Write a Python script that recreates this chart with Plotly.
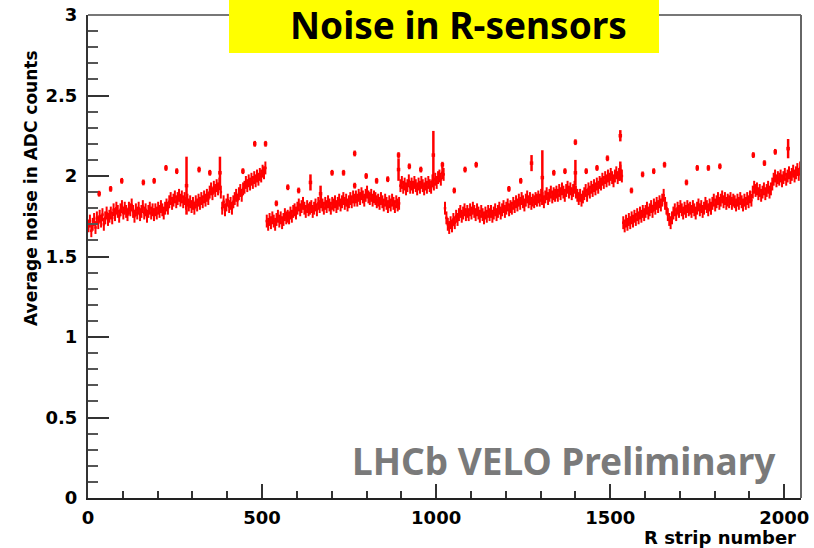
import numpy as np
import plotly.graph_objects as go

# ---- data: average noise per group of 4 R strips ----
BIN_WIDTH = 4
seg1_noise = [
    1.69, 1.72, 1.66, 1.70, 1.73, 1.68, 1.74, 1.71, 1.75, 1.72, 1.76, 1.70, 1.74, 1.77, 1.73, 1.75,
    1.77, 1.74, 1.79, 1.76, 1.80, 1.78, 1.75, 1.79, 1.81, 1.77, 1.80, 1.78, 1.76, 1.80, 1.79, 1.82,
    1.78, 1.75, 1.79, 1.77, 1.80, 1.76, 1.78, 1.81, 1.77, 1.79, 1.75, 1.78, 1.80, 1.77, 1.79, 1.76,
    1.79, 1.77, 1.80, 1.78, 1.81, 1.79, 1.77, 1.80, 1.82, 1.80, 1.84, 1.86, 1.83, 1.85, 1.87, 1.84,
    1.86, 1.88, 1.85, 1.87, 1.84, 1.86, 1.83, 1.85, 1.82, 1.84, 1.81, 1.83, 1.80, 1.84, 1.82, 1.85,
    1.83, 1.86, 1.84, 1.87, 1.85, 1.88, 1.86, 1.90, 1.92, 1.89, 1.93, 1.91, 1.94, 1.92, 1.95, 1.90,
    1.80, 1.84, 1.79, 1.82, 1.85, 1.81, 1.83, 1.80, 1.84, 1.86, 1.88, 1.85, 1.89, 1.91, 1.88, 1.92,
    1.93, 1.96, 1.94, 1.97, 1.95, 1.98, 1.96, 1.99, 1.97, 2.00, 1.98, 2.01, 2.00, 2.03, 2.02, 2.05,
]
seg2_noise = [
    1.72, 1.70, 1.73, 1.71, 1.74, 1.72, 1.70, 1.73, 1.75, 1.72, 1.74, 1.71, 1.73, 1.76, 1.74, 1.75,
    1.74, 1.77, 1.75, 1.78, 1.79, 1.77, 1.80, 1.82, 1.79, 1.81, 1.83, 1.80, 1.78, 1.81, 1.79, 1.80,
    1.81, 1.78, 1.80, 1.82, 1.79, 1.83, 1.81, 1.84, 1.82, 1.80, 1.83, 1.81, 1.84, 1.82, 1.80, 1.83,
    1.82, 1.84, 1.81, 1.83, 1.85, 1.82, 1.84, 1.86, 1.83, 1.85, 1.82, 1.84, 1.86, 1.84, 1.87, 1.85,
    1.87, 1.85, 1.88, 1.86, 1.89, 1.87, 1.85, 1.88, 1.90, 1.87, 1.86, 1.88, 1.85, 1.87, 1.86, 1.84,
    1.85, 1.83, 1.86, 1.84, 1.82, 1.85, 1.83, 1.81, 1.84, 1.82, 1.85, 1.83, 1.81, 1.84, 1.82, 1.83,
    1.94, 1.96, 1.93, 1.95, 1.92, 1.94, 1.97, 1.93, 1.95, 1.93, 1.96, 1.94, 1.92, 1.95, 1.93, 1.96,
    1.94, 1.92, 1.95, 1.93, 1.96, 1.94, 1.93, 1.97, 1.95, 1.98, 1.96, 1.99, 2.00, 1.98, 2.02, 2.01,
]
seg3_noise = [
    1.80, 1.74, 1.70, 1.68, 1.71, 1.69, 1.73, 1.71, 1.75, 1.73, 1.76, 1.78, 1.75, 1.77, 1.79, 1.76,
    1.78, 1.76, 1.79, 1.77, 1.80, 1.78, 1.76, 1.79, 1.77, 1.75, 1.78, 1.76, 1.74, 1.77, 1.75, 1.78,
    1.76, 1.78, 1.75, 1.77, 1.79, 1.76, 1.78, 1.80, 1.77, 1.79, 1.81, 1.78, 1.80, 1.82, 1.79, 1.81,
    1.80, 1.83, 1.81, 1.84, 1.82, 1.85, 1.83, 1.86, 1.84, 1.82, 1.85, 1.87, 1.84, 1.86, 1.83, 1.85,
    1.84, 1.86, 1.85, 1.87, 1.85, 1.88, 1.86, 1.84, 1.87, 1.89, 1.86, 1.88, 1.90, 1.87, 1.89, 1.88,
    1.90, 1.88, 1.91, 1.89, 1.92, 1.90, 1.88, 1.91, 1.93, 1.90, 1.92, 1.89, 1.91, 1.93, 1.90, 1.88,
    1.86, 1.88, 1.85, 1.87, 1.89, 1.91, 1.88, 1.92, 1.90, 1.93, 1.91, 1.94, 1.92, 1.95, 1.93, 1.96,
    1.95, 1.98, 1.96, 1.99, 1.97, 2.00, 1.98, 2.01, 1.99, 1.97, 2.00, 2.02, 1.99, 2.01, 2.03, 2.00,
]
seg4_noise = [
    1.71, 1.69, 1.72, 1.70, 1.73, 1.71, 1.74, 1.72, 1.75, 1.73, 1.76, 1.74, 1.77, 1.75, 1.78, 1.76,
    1.78, 1.80, 1.77, 1.79, 1.81, 1.78, 1.82, 1.80, 1.83, 1.81, 1.84, 1.82, 1.85, 1.88, 1.83, 1.80,
    1.76, 1.73, 1.71, 1.74, 1.77, 1.79, 1.76, 1.80, 1.78, 1.81, 1.79, 1.77, 1.80, 1.78, 1.81, 1.79,
    1.80, 1.78, 1.81, 1.79, 1.77, 1.80, 1.82, 1.79, 1.81, 1.78, 1.80, 1.83, 1.81, 1.79, 1.82, 1.80,
    1.83, 1.85, 1.82, 1.84, 1.86, 1.83, 1.85, 1.87, 1.84, 1.86, 1.83, 1.85, 1.84, 1.86, 1.83, 1.85,
    1.84, 1.82, 1.85, 1.83, 1.86, 1.84, 1.82, 1.85, 1.83, 1.86, 1.84, 1.87, 1.85, 1.90, 1.93, 1.91,
    1.92, 1.89, 1.91, 1.88, 1.90, 1.92, 1.89, 1.91, 1.93, 1.90, 1.92, 1.95, 1.98, 2.00, 1.97, 1.99,
    1.98, 2.00, 1.97, 1.99, 2.01, 1.98, 2.00, 2.02, 1.99, 2.01, 2.03, 2.00, 2.02, 2.04, 2.01, 2.05,
]
band_error = 0.04

# individual noisy strips (strip number, noise, error)
outlier_strip = [32, 65, 97, 159, 190, 224, 255, 283, 319, 350, 379, 445, 479, 510,
                 541, 574, 605, 639, 668, 701, 734, 766, 766, 799, 829, 861, 892, 892, 923, 956, 992, 1018,
                 1052, 1083, 1115, 1209, 1243, 1274, 1305, 1338, 1370, 1400, 1400, 1431, 1462, 1492, 1529, 1529,
                 1561, 1593, 1625, 1656, 1719, 1750, 1782, 1815, 1911, 1943, 1974, 2011]
outlier_noise = [1.89, 1.92, 1.97, 1.96, 1.97, 2.05, 2.03, 1.94, 2.04, 2.02, 2.02, 2.03, 2.20, 2.20,
                 1.83, 1.93, 1.91, 1.96, 1.89, 2.02, 2.02, 2.14, 1.94, 2.00, 1.97, 1.98, 2.13, 2.04, 2.06, 2.04, 2.13, 2.07,
                 1.91, 2.04, 2.07, 1.92, 1.97, 2.08, 1.99, 2.02, 2.03, 2.21, 2.02, 2.03, 2.05, 2.11, 2.25, 2.03,
                 1.91, 2.01, 2.03, 2.07, 1.96, 2.05, 2.05, 2.06, 2.13, 2.08, 2.15, 2.17]
outlier_error = [0.018, 0.018, 0.018, 0.018, 0.018, 0.018, 0.018, 0.18, 0.018, 0.018, 0.10, 0.018, 0.018, 0.018,
                 0.018, 0.018, 0.018, 0.05, 0.05, 0.018, 0.018, 0.018, 0.018, 0.018, 0.018, 0.018, 0.018, 0.07, 0.018, 0.018, 0.15, 0.018,
                 0.018, 0.018, 0.018, 0.018, 0.018, 0.05, 0.17, 0.018, 0.018, 0.018, 0.08, 0.018, 0.018, 0.018, 0.035, 0.06,
                 0.018, 0.018, 0.018, 0.018, 0.018, 0.018, 0.018, 0.018, 0.018, 0.018, 0.018, 0.06]

x_ticks = [0, 500, 1000, 1500, 2000]
y_ticks = [0, 0.5, 1, 1.5, 2, 2.5, 3]
y_tick_text = ["0", "0.5", "1", "1.5", "2", "2.5", "3"]

# ---- figure ----
noise = seg1_noise + seg2_noise + seg3_noise + seg4_noise
strip = np.arange(len(noise)) * BIN_WIDTH + (BIN_WIDTH - 1) / 2.0

RED = "#ff0000"
fig = go.Figure()
fig.add_trace(go.Scatter(
    x=strip, y=noise, mode="markers",
    marker=dict(symbol="square", size=2.5, color=RED, line=dict(width=0)),
    error_y=dict(type="constant", value=band_error, color=RED, thickness=2, width=0),
    showlegend=False, hoverinfo="x+y"))
fig.add_trace(go.Scatter(
    x=outlier_strip, y=outlier_noise, mode="markers",
    marker=dict(symbol="square", size=3.5, color=RED, line=dict(width=0)),
    error_y=dict(type="data", array=outlier_error, color=RED, thickness=2.5, width=0),
    showlegend=False, hoverinfo="x+y"))

W, H = 814, 548
L, R, T, B = 88, 13, 15, 50
pw, ph = W - L - R, H - T - B

def px(xp):
    return (xp - L) / pw

def py(yp):
    return (H - B - yp) / ph

AXFONT = "DejaVu Sans, Liberation Sans, sans-serif"
tickfont = dict(family=AXFONT, size=18, color="black", weight="bold")

fig.update_layout(
    width=W, height=H,
    margin=dict(l=L, r=R, t=T, b=B, autoexpand=False),
    paper_bgcolor="white", plot_bgcolor="white",
    xaxis=dict(range=[0, 2048], showgrid=False, zeroline=False, automargin=False,
               showline=True, linecolor="#222222", linewidth=2,
               tickmode="array", tickvals=x_ticks, ticktext=[str(v) for v in x_ticks],
               ticks="inside", ticklen=14, tickwidth=1.5, tickcolor="#333333",
               minor=dict(dtick=100, ticks="inside", ticklen=7, tickwidth=1.5, tickcolor="#333333"),
               tickfont=tickfont, ticklabelstandoff=2),
    yaxis=dict(range=[0, 3], showgrid=False, zeroline=False, automargin=False,
               showline=True, linecolor="#333333", linewidth=2,
               tickmode="array", tickvals=y_ticks, ticktext=y_tick_text,
               ticks="inside", ticklen=21, tickwidth=1.5, tickcolor="#333333",
               minor=dict(dtick=0.1, ticks="inside", ticklen=10, tickwidth=1.5, tickcolor="#555555"),
               tickfont=tickfont, ticklabelstandoff=5),
)

# gray frame on top and right
fig.add_shape(type="line", xref="paper", yref="paper", x0=0, x1=1, y0=1, y1=1,
              line=dict(color="#777777", width=2))
fig.add_shape(type="line", xref="paper", yref="paper", x0=1, x1=1, y0=0, y1=1,
              line=dict(color="#666666", width=2))

# title box
fig.add_shape(type="rect", xref="paper", yref="paper",
              x0=px(229), x1=px(659), y0=py(53), y1=py(-2),
              fillcolor="#ffff00", line=dict(width=0), layer="above")
fig.add_annotation(xref="paper", yref="paper", x=px(458), y=py(25),
                   xanchor="center", yanchor="middle", showarrow=False,
                   text="Noise in R-sensors",
                   font=dict(family="Comic Sans MS, Noto Sans, sans-serif", size=37,
                             color="black", weight="bold"))

# preliminary label
fig.add_annotation(xref="paper", yref="paper", x=px(778), y=py(460),
                   xanchor="right", yanchor="middle", showarrow=False,
                   text="LHCb VELO Preliminary",
                   font=dict(family="Comic Sans MS, Noto Sans, sans-serif", size=37,
                             color="#7a7a7a", weight="bold"))

# axis titles
fig.add_annotation(xref="paper", yref="paper", x=px(798), y=py(537),
                   xanchor="right", yanchor="middle", showarrow=False,
                   text="R strip number",
                   font=dict(family=AXFONT, size=18, color="black", weight="bold"))
fig.add_annotation(xref="paper", yref="paper", x=px(31), y=py(188),
                   xanchor="center", yanchor="middle", showarrow=False, textangle=-90,
                   text="Average noise in ADC counts",
                   font=dict(family=AXFONT, size=17, color="black", weight="bold"))

fig.write_html("out.html")
